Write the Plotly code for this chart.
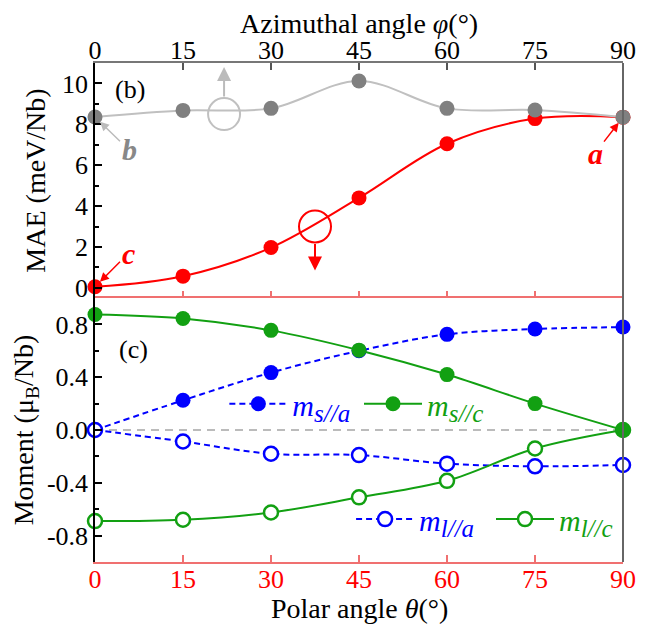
import plotly.graph_objects as go

# ---------------- data ----------------
angles = [0, 15, 30, 45, 60, 75, 90]
tick_labels = ["0", "15", "30", "45", "60", "75", "90"]

mae_polar = [0.05, 0.57, 1.97, 4.40, 7.05, 8.28, 8.35]      # red, vs polar angle theta
mae_azimuthal = [8.36, 8.68, 8.78, 10.12, 8.78, 8.70, 8.35]  # gray, vs azimuthal angle phi

ms_a = [0.0, 0.225, 0.435, 0.60, 0.725, 0.765, 0.78]
ms_c = [0.875, 0.845, 0.755, 0.605, 0.42, 0.20, 0.0]
ml_a = [0.0, -0.087, -0.18, -0.19, -0.255, -0.275, -0.265]
ml_c = [-0.69, -0.68, -0.625, -0.51, -0.385, -0.14, 0.0]

mae_ticks = [0, 2, 4, 6, 8, 10]
mae_minor = [1, 3, 5, 7, 9]
mom_ticks = [-0.8, -0.4, 0.0, 0.4, 0.8]
mom_tick_text = ["-0.8", "-0.4", "0.0", "0.4", "0.8"]
mom_minor = [-0.6, -0.2, 0.2, 0.6]

# decoration positions (axis-indicator circles)
gray_circle = (22.0, 8.5)
red_circle = (37.5, 3.0)

FONT = "Liberation Serif"
RED = "#FF0000"
RED_AX = "#F07070"
GRAY_PT = "#808080"
GRAY_LN = "#C0C0C0"
BLUE = "#0000FF"
GREEN = "#12A012"


def legend_name(sub):
    return "<i>m</i><sub><span style='font-size:25px'><i>" + sub + "</i></span></sub>"


fig = go.Figure()

# ---- top panel (b) ----
fig.add_trace(go.Scatter(x=angles, y=mae_polar, xaxis="x2", yaxis="y2", mode="lines+markers",
                         line=dict(color=RED, width=2, shape="spline", smoothing=1),
                         marker=dict(color=RED, size=15), cliponaxis=False, showlegend=False))
fig.add_trace(go.Scatter(x=angles, y=mae_azimuthal, xaxis="x2", yaxis="y2", mode="lines+markers",
                         line=dict(color=GRAY_LN, width=2, shape="spline", smoothing=1),
                         marker=dict(color=GRAY_PT, size=15), cliponaxis=False, showlegend=False))
# indicator circles
fig.add_trace(go.Scatter(x=[gray_circle[0]], y=[gray_circle[1]], xaxis="x2", yaxis="y2", mode="markers",
                         marker=dict(symbol="circle-open", size=32, color=GRAY_LN, line=dict(width=2)),
                         showlegend=False, hoverinfo="skip"))
fig.add_trace(go.Scatter(x=[red_circle[0]], y=[red_circle[1]], xaxis="x2", yaxis="y2", mode="markers",
                         marker=dict(symbol="circle-open", size=32, color=RED, line=dict(width=2)),
                         showlegend=False, hoverinfo="skip"))

# ---- bottom panel (c) ----
dash = "6px,4px"
fig.add_trace(go.Scatter(x=angles, y=ms_a, mode="lines+markers", name=legend_name("s//a"),
                         line=dict(color=BLUE, width=2, dash=dash, shape="spline"),
                         marker=dict(color=BLUE, size=15), cliponaxis=False, legend="legend"))
fig.add_trace(go.Scatter(x=angles, y=ml_a, mode="lines+markers", name=legend_name("l//a"),
                         line=dict(color=BLUE, width=2, dash=dash, shape="spline"),
                         marker=dict(color="white", size=14, line=dict(color=BLUE, width=2.5)),
                         cliponaxis=False, legend="legend3"))
fig.add_trace(go.Scatter(x=angles, y=ml_c, mode="lines+markers", name=legend_name("l//c"),
                         line=dict(color=GREEN, width=2, shape="spline"),
                         marker=dict(color="white", size=14, line=dict(color=GREEN, width=2.5)),
                         cliponaxis=False, legend="legend4"))
fig.add_trace(go.Scatter(x=angles, y=ms_c, mode="lines+markers", name=legend_name("s//c"),
                         line=dict(color=GREEN, width=2, shape="spline"),
                         marker=dict(color=GREEN, size=15), cliponaxis=False, legend="legend2"))
# invisible trace to create ticks on the boundary (x3 / y2)
fig.add_trace(go.Scatter(x=[angles[0]], y=[mae_polar[0]], xaxis="x3", yaxis="y2", mode="markers",
                         marker=dict(opacity=0), showlegend=False, hoverinfo="skip"))

split = 0.529
tickfont = dict(family=FONT, size=26, color="black")
titlefont = dict(family=FONT, size=28, color="black")
ytitlefont = dict(family=FONT, size=28, color="black")

fig.update_layout(
    template="none",
    width=653, height=626,
    margin=dict(l=87, r=38, t=55, b=72, pad=0),
    paper_bgcolor="white", plot_bgcolor="white",
    font=dict(family=FONT),
    xaxis=dict(domain=[0, 1], anchor="y", range=[0, 90], tickvals=angles, ticktext=tick_labels,
               tickfont=dict(family=FONT, size=26, color=RED), showgrid=False, zeroline=False,
               showline=True, linecolor=RED_AX, linewidth=2, mirror=True, automargin=False,
               ticks="inside", ticklen=7, tickcolor=RED_AX, tickwidth=1.5, ticklabelstandoff=-7),
    yaxis=dict(domain=[0, split], anchor="x", range=[-1, 1], tickvals=mom_ticks, ticktext=mom_tick_text,
               tickfont=tickfont, showgrid=False, zeroline=False, showline=True, linecolor="black",
               linewidth=1.5, ticks="inside", ticklen=7, tickwidth=1.5, tickcolor="black", automargin=False,
               minor=dict(tickvals=mom_minor, ticks="inside", ticklen=4, tickcolor="black", showgrid=False),
               title=dict(text="Moment (μ<sub>B</sub>/Nb)", font=ytitlefont, standoff=8)),
    xaxis2=dict(domain=[0, 1], anchor="y2", side="top", range=[0, 90], tickvals=angles, ticktext=tick_labels,
                tickfont=tickfont, showgrid=False, zeroline=False, showline=True, linecolor="#777777",
                linewidth=1.5, ticks="inside", ticklen=7, tickcolor="#555555", tickwidth=1.5, automargin=False,
                ticklabelstandoff=-8),
    xaxis3=dict(overlaying="x2", anchor="y2", side="bottom", range=[0, 90], tickvals=angles,
                showticklabels=False, showgrid=False, zeroline=False, showline=False, automargin=False,
                ticks="inside", ticklen=7, tickcolor=RED_AX, tickwidth=1.5),
    yaxis2=dict(domain=[split, 1], anchor="x2", range=[-0.5, 11], tickvals=mae_ticks,
                tickfont=tickfont, showgrid=False, zeroline=False, showline=True, linecolor="black",
                linewidth=1.5, ticks="inside", ticklen=7, tickwidth=1.5, tickcolor="black", automargin=False,
                minor=dict(tickvals=mae_minor, ticks="inside", ticklen=4, tickcolor="black", showgrid=False),
                title=dict(text="MAE (meV/Nb)", font=ytitlefont, standoff=8)),
    shapes=[
        dict(type="line", xref="x domain", yref="y", x0=0, x1=1, y0=0, y1=0,
             line=dict(color="#BBBBBB", width=2, dash="8px,6px"), layer="below"),
        dict(type="line", xref="paper", yref="paper", x0=1, x1=1, y0=0, y1=1,
             line=dict(color="#666666", width=2)),
    ],
)

legend_common = dict(bgcolor="rgba(0,0,0,0)", orientation="h", yanchor="middle", xanchor="left",
                     itemwidth=58, tracegroupgap=0)
fig.update_layout(
    legend=dict(x=0.245, y=0.317, font=dict(family=FONT, size=30, color=BLUE), **legend_common),
    legend2=dict(x=0.50, y=0.317, font=dict(family=FONT, size=30, color=GREEN), **legend_common),
    legend3=dict(x=0.485, y=0.086, font=dict(family=FONT, size=30, color=BLUE), **legend_common),
    legend4=dict(x=0.75, y=0.086, font=dict(family=FONT, size=30, color=GREEN), **legend_common),
)

ann = []
# axis titles for the x axes
ann.append(dict(text="Azimuthal angle <i>φ</i>(°)", xref="paper", yref="paper", x=0.5, y=1.08,
                showarrow=False, xanchor="center", yanchor="middle", font=titlefont))
ann.append(dict(text="Polar angle <i>θ</i>(°)", xref="paper", yref="paper", x=0.5, y=-0.094,
                showarrow=False, xanchor="center", yanchor="middle", font=titlefont))
ann.append(dict(text="(b)", xref="paper", yref="paper", x=0.066, y=0.946, showarrow=False,
                xanchor="center", yanchor="middle", font=dict(family=FONT, size=26, color="black")))
ann.append(dict(text="(c)", xref="paper", yref="paper", x=0.072, y=0.425, showarrow=False,
                xanchor="center", yanchor="middle", font=dict(family=FONT, size=26, color="black")))
# labels a, b, c with arrows
ann.append(dict(text="<b><i>b</i></b>", xref="x2", yref="y2", x=angles[0], y=mae_azimuthal[0],
                ax=34, ay=33, showarrow=True, arrowhead=2, arrowsize=1.2, arrowwidth=1.5,
                arrowcolor="#BBBBBB", standoff=7, font=dict(family=FONT, size=30, color="#888888")))
ann.append(dict(text="<b><i>c</i></b>", xref="x2", yref="y2", x=angles[0], y=mae_polar[0],
                ax=33, ay=-33, showarrow=True, arrowhead=2, arrowsize=1.2, arrowwidth=1.5,
                arrowcolor=RED, standoff=7, font=dict(family=FONT, size=30, color=RED)))
ann.append(dict(text="<b><i>a</i></b>", xref="x2", yref="y2", x=angles[-1], y=mae_polar[-1],
                ax=-28, ay=36, showarrow=True, arrowhead=2, arrowsize=1.2, arrowwidth=1.5,
                arrowcolor=RED, standoff=7, font=dict(family=FONT, size=30, color=RED)))
# axis-indicator arrows
ann.append(dict(text="", xref="x2", yref="y2", x=gray_circle[0], y=10.8, ax=0, ay=31,
                showarrow=True, arrowhead=2, arrowsize=1.4, arrowwidth=2, arrowcolor="#BBBBBB"))
ann.append(dict(text="", xref="x2", yref="y2", x=red_circle[0], y=0.85, ax=0, ay=-28,
                showarrow=True, arrowhead=2, arrowsize=1.4, arrowwidth=2, arrowcolor=RED))
fig.update_layout(annotations=ann)

fig.write_html("out.html")
